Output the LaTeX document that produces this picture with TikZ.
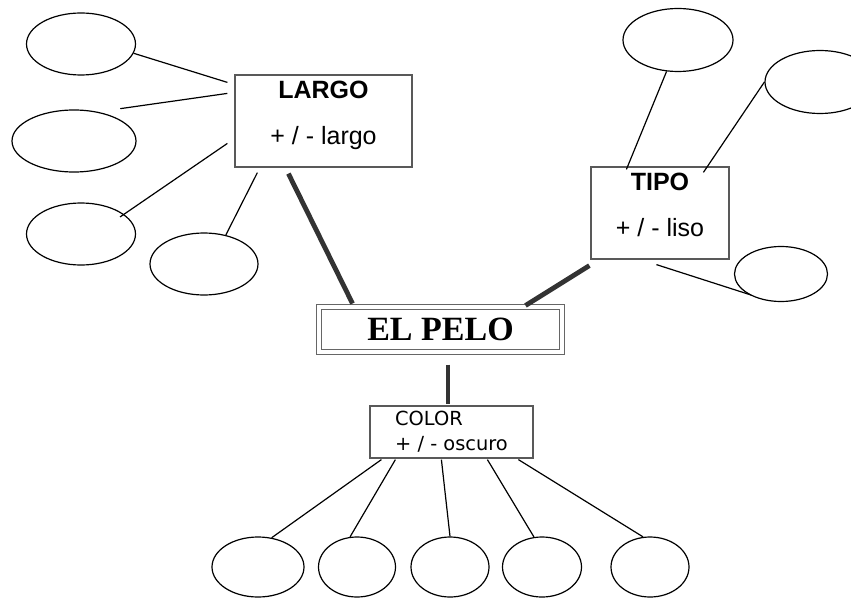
\documentclass[tikz,border=0pt]{standalone}
\usepackage{fontspec}
\usepackage{tikz}
\usetikzlibrary{shapes.geometric,calc}
\newfontfamily\boxfont{Liberation Sans}
\newfontfamily\colfont{DejaVu Sans}
\newfontfamily\pelofont{Liberation Serif}

\begin{document}
\begin{tikzpicture}[x=0.5pt,y=-0.5pt,
  hole/.style={draw, ellipse, line width=0.6pt, inner sep=0pt},
  box/.style={draw=black!65, line width=0.6pt, align=center, inner sep=0pt,
    font=\boxfont\fontsize{12.5}{14}\selectfont},
  spoke/.style={line width=0.6pt},
  trunk/.style={line width=2.4pt, draw=black!80}]
\useasboundingbox (0,0) rectangle (851,599);

% centre
\node[draw=black!60, double, double distance=2pt, line width=0.5pt,
  minimum width=121.5pt, minimum height=22.5pt, inner sep=0pt,
  font=\pelofont\bfseries\fontsize{17}{20}\selectfont] (pelo) at (440.5,329.5) {EL PELO};

% the three boxes
\node[box, minimum width=88.5pt, minimum height=46pt] (largo) at (323.5,121)
  {{\bfseries LARGO}\\[9pt]+ / - largo\rule[-8pt]{0pt}{0pt}};
\node[box, minimum width=69pt, minimum height=46pt] (tipo) at (660,213)
  {{\bfseries TIPO}\\[9pt]+ / - liso\rule[-8pt]{0pt}{0pt}};
\node[box, align=left, minimum width=81.5pt, minimum height=26pt,
  font=\colfont\fontsize{9.7}{12}\selectfont] (color) at (451.5,432)
  {COLOR\\[0.5pt]+ / - oscuro};

% empty ellipses
\node[hole, minimum width=54.5pt, minimum height=31pt] (e1) at (81,44) {};
\node[hole, minimum width=62pt, minimum height=31pt] (e2) at (74,141) {};
\node[hole, minimum width=54.5pt, minimum height=31pt] (e3) at (81,234) {};
\node[hole, minimum width=54pt, minimum height=31pt] (e4) at (204,264) {};
\node[hole, minimum width=55pt, minimum height=31.5pt] (t1) at (678,40) {};
\node[hole, minimum width=55pt, minimum height=31.5pt] (t2) at (820,82) {};
\node[hole, minimum width=46.5pt, minimum height=27.5pt] (t3) at (781,274) {};
\node[hole, minimum width=46pt, minimum height=30pt] (b1) at (258,567) {};
\node[hole, minimum width=38.5pt, minimum height=30pt] (b2) at (357,567) {};
\node[hole, minimum width=39pt, minimum height=30pt] (b3) at (450,567) {};
\node[hole, minimum width=39.5pt, minimum height=30pt] (b4) at (542,567) {};
\node[hole, minimum width=39pt, minimum height=30pt] (b5) at (650,567) {};

% heavy links to the centre
\draw[trunk] ($(largo.south west)+(54,6)$) -- ($(pelo.north west)+(34,-3)$);
\draw[trunk] ($(tipo.south west)+(-1,6)$) -- ($(pelo.north east)+(-37,-1)$);
\draw[trunk] ($(pelo.south)+(7.5,12)$) -- ($(color.north)+(-3.5,-1)$);

% largo
\draw[spoke] (e1.-10) -- ($(largo.north west)+(-7,8)$);
\draw[spoke] ($(e2.north east)+(2,-10)$) -- ($(largo.north west)+(-7,19)$);
\draw[spoke] ($(e3.center)+(39,-17)$) -- ($(largo.north west)+(-7,69)$);
\draw[spoke] (e4.53) -- ($(largo.south west)+(23,5)$);

% tipo
\draw[spoke] (t1.-110) -- ($(tipo.north west)+(36,3)$);
\draw[spoke] (t2.west) -- ($(tipo.north west)+(113,6)$);
\draw[spoke] ($(tipo.south west)+(66,5)$) -- ($(t3.center)+(-30,21)$);

% color
\draw[spoke] ($(color.south west)+(12,1)$) -- (b1.65);
\draw[spoke] ($(color.south west)+(26,1)$) -- (b2.103);
\draw[spoke] ($(color.south west)+(72,1)$) -- (b3.north);
\draw[spoke] ($(color.south west)+(118,1)$) -- (b4.105);
\draw[spoke] ($(color.south west)+(149,1)$) -- (b5.103);
\end{tikzpicture}
\end{document}
